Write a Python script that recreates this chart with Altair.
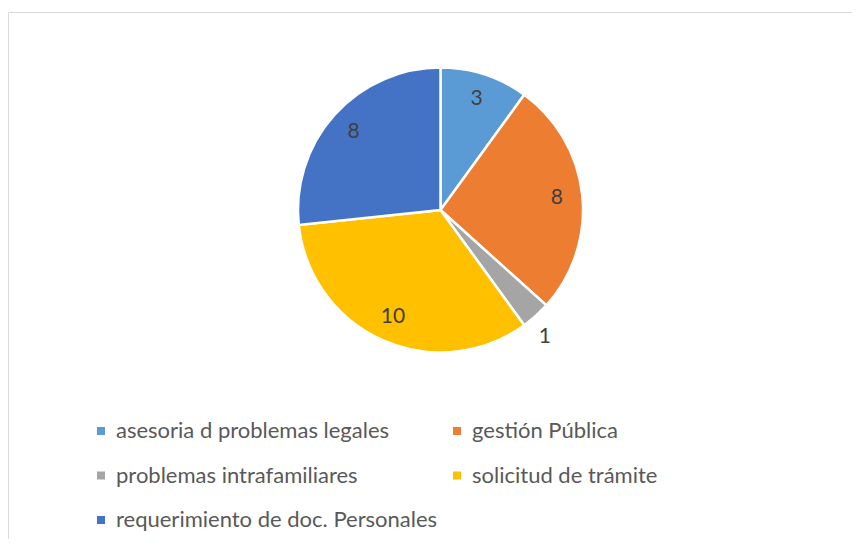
import altair as alt
import pandas as pd

categories = [
    "asesoria d problemas legales",
    "gestión Pública",
    "problemas intrafamiliares",
    "solicitud de trámite",
    "requerimiento de doc. Personales",
]
values = [3, 8, 1, 10, 8]
colors = ["#5B9BD5", "#ED7D31", "#A5A5A5", "#FFC000", "#4472C4"]

df = pd.DataFrame({"categoria": categories, "valor": values, "orden": list(range(len(values)))})

CX, CY = 432.5, 202

frame = alt.Chart(pd.DataFrame({"a": [0]})).mark_rect(
    fill=None, stroke="#D9D9D9", strokeWidth=1
).encode(x=alt.value(0.5), x2=alt.value(900), y=alt.value(4.5), y2=alt.value(700))

base = alt.Chart(df).encode(
    theta=alt.Theta("valor:Q", stack=True),
    order=alt.Order("orden:Q"),
    color=alt.Color(
        "categoria:N",
        scale=alt.Scale(domain=categories, range=colors),
        sort=categories,
        legend=alt.Legend(title=None, direction="horizontal"),
    ),
)

pie = base.mark_arc(outerRadius=142.5, stroke="white", strokeWidth=2.5).encode(
    x=alt.value(CX), y=alt.value(CY)
)

labels_in = base.transform_calculate(
    lab="datum.valor > 1 ? '' + datum.valor : ''"
).mark_text(radius=117, font="Lato", fontSize=21).encode(
    x=alt.value(CX), y=alt.value(CY), text="lab:N", color=alt.value("#404040")
)

labels_out = base.transform_calculate(
    lab="datum.valor <= 1 ? '' + datum.valor : ''"
).mark_text(radius=162, font="Lato", fontSize=21, dx=-4, dy=7).encode(
    x=alt.value(CX), y=alt.value(CY), text="lab:N", color=alt.value("#404040")
)

chart = (
    alt.layer(frame, pie, labels_in, labels_out)
    .properties(width=844, height=531, autosize=alt.AutoSizeParams(type="none"), padding=0)
    .configure_view(stroke=None)
    .configure_legend(
        orient="none",
        legendX=82,
        legendY=412,
        columns=2,
        columnPadding=8,
        rowPadding=22.5,
        symbolType="square",
        symbolSize=64,
        symbolStrokeWidth=0,
        labelFont="Lato",
        labelFontSize=22,
        labelColor="#595959",
        labelOffset=4,
        labelLimit=0,
    )
)

chart.save("out.html", embed_options={"renderer": "svg", "actions": False})
